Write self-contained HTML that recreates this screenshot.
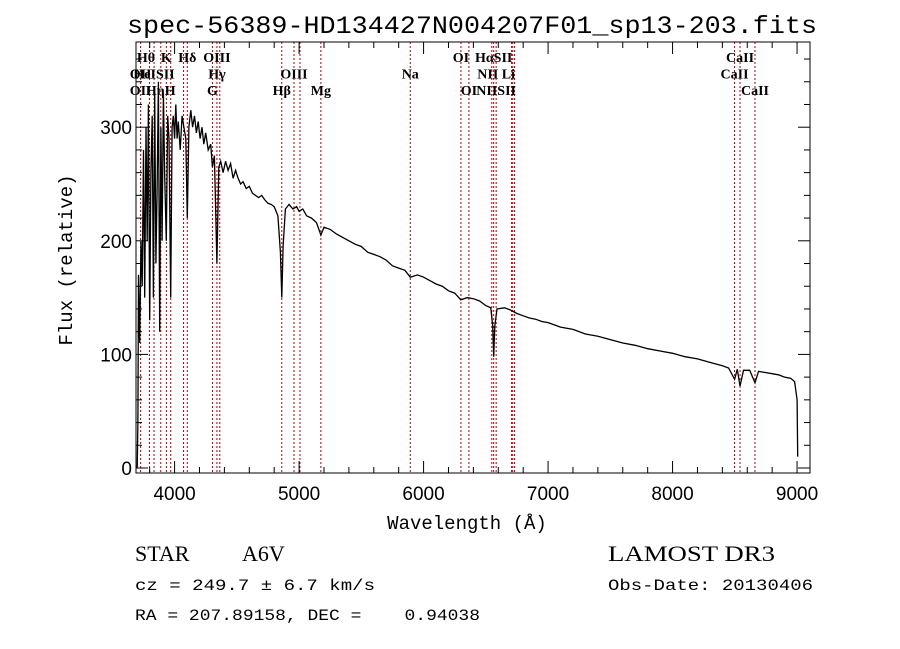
<!DOCTYPE html>
<html><head><meta charset="utf-8"><style>
html,body{margin:0;padding:0;background:#fff;}
svg{display:block;}
text{fill:#000;white-space:pre;}
</style></head><body>
<svg id="chart" width="900" height="649" viewBox="0 0 900 649" xmlns="http://www.w3.org/2000/svg">
<text x="472" y="33" text-anchor="middle" font-family="Liberation Mono, monospace" font-size="25" textLength="690" lengthAdjust="spacingAndGlyphs">spec-56389-HD134427N004207F01_sp13-203.fits</text>
<g id="lines"></g>
<g id="labels"></g>
<path id="spec" fill="none" stroke="#000" stroke-width="1.3"/>
<rect x="136" y="42" width="674" height="431" fill="none" stroke="#000" stroke-width="1"/>
<g id="ticks" stroke="#000" stroke-width="1"></g>
<g id="ticklabels" font-family="Liberation Sans, sans-serif" font-size="19"></g>
<text x="467" y="529" text-anchor="middle" font-family="Liberation Mono, monospace" font-size="19">Wavelength (Å)</text>
<text transform="translate(72,260) rotate(-90)" text-anchor="middle" font-family="Liberation Mono, monospace" font-size="19">Flux (relative)</text>
<text x="135" y="561" font-family="Liberation Serif, serif" font-size="22">STAR</text>
<text x="242" y="561" font-family="Liberation Serif, serif" font-size="22">A6V</text>
<text x="608" y="561" font-family="Liberation Serif, serif" font-size="22" textLength="167" lengthAdjust="spacingAndGlyphs">LAMOST DR3</text>
<text x="135" y="590" font-family="Liberation Mono, monospace" font-size="16" textLength="240" lengthAdjust="spacingAndGlyphs">cz = 249.7 ± 6.7 km/s</text>
<text x="608" y="590" font-family="Liberation Mono, monospace" font-size="16" textLength="205" lengthAdjust="spacingAndGlyphs">Obs-Date: 20130406</text>
<text x="135" y="620" font-family="Liberation Mono, monospace" font-size="16" textLength="345" lengthAdjust="spacingAndGlyphs" xml:space="preserve">RA = 207.89158, DEC =    0.94038</text>
</svg>
<script>
const wavelengths=[3700,3705,3710,3720,3730,3740,3750,3760,3770,3780,3790,3800,3810,3820,3830,3840,3850,3860,3870,3880,3890,3900,3910,3920,3933,3945,3955,3969,3980,3990,4000,4010,4020,4030,4045,4060,4075,4090,4102,4115,4130,4145,4160,4175,4190,4205,4220,4235,4250,4270,4290,4304,4320,4340,4355,4370,4390,4410,4430,4450,4470,4490,4510,4530,4550,4575,4600,4625,4650,4675,4700,4725,4750,4775,4800,4830,4850,4861,4872,4890,4920,4950,4980,5000,5030,5060,5100,5140,5175,5200,5250,5300,5350,5400,5450,5500,5550,5600,5650,5700,5750,5800,5850,5893,5950,6000,6050,6100,6150,6200,6250,6300,6350,6400,6450,6500,6540,6555,6563,6572,6590,6650,6700,6750,6800,6850,6900,6950,7000,7100,7200,7300,7400,7500,7600,7700,7800,7900,8000,8100,8200,8300,8400,8450,8498,8520,8542,8570,8620,8662,8690,8750,8800,8850,8900,8950,8980,9000,9005];
const fluxes=[0,40,170,110,200,160,280,150,300,200,320,130,260,310,150,330,180,250,340,120,300,200,330,260,200,310,290,150,300,310,290,320,290,305,280,310,300,290,220,300,315,300,310,295,305,290,300,285,295,280,285,265,275,180,265,270,260,270,262,268,255,262,255,250,252,246,248,242,240,238,240,236,233,232,230,222,190,150,195,228,232,228,230,226,228,222,220,216,205,212,210,206,203,200,197,195,190,188,186,183,178,176,174,168,170,168,165,162,160,156,154,148,150,149,147,143,141,125,98,125,140,141,139,136,134,132,131,129,128,124,122,118,116,113,110,108,105,103,101,98,96,93,90,88,78,87,72,86,86,75,85,84,83,82,80,79,76,60,10];
const lineWaves=[3727,3798,3835,3889,3934,3969,4072,4102,4304,4340,4363,4861,4959,5007,5175,5893,6300,6364,6548,6563,6583,6707,6716,6731,8498,8542,8662];
const xTickLabels=[4000,5000,6000,7000,8000,9000];
const yTickLabels=[0,100,200,300];
const labelTexts=["Hθ","K","Hδ","OIII","OI","HαSII","CaII","OII","HeISII","Hγ","OIII","Na","NII Li","CaII","OII","HηH","G","Hβ","Mg","OI","NIISII","CaII"];
const labelWaves=[3770,3934,4102,4340,6300,6563,8542,3727,3835,4340,4959,5893,6583,8498,3727,3889,4304,4861,5175,6364,6583,8662];
const labelRows=[0,0,0,0,0,0,0,1,1,1,1,1,1,1,2,2,2,2,2,2,2,2];

const X0=136,X1=810,Y0=473,Y1=42,WMIN=3690,WMAX=9104,FMIN=-4.4,FMAX=375;
const xs=w=>X0+(w-WMIN)/(WMAX-WMIN)*(X1-X0);
const ys=f=>Y0-(f-FMIN)/(FMAX-FMIN)*(Y0-Y1);
const NS="http://www.w3.org/2000/svg";
let d="";
wavelengths.forEach((w,i)=>{d+=(i?"L":"M")+xs(w).toFixed(1)+","+ys(fluxes[i]).toFixed(1);});
document.getElementById("spec").setAttribute("d",d);
const lg=document.getElementById("lines");
lineWaves.forEach(w=>{const l=document.createElementNS(NS,"line");


l.setAttribute("x1",xs(w));l.setAttribute("x2",xs(w));l.setAttribute("y1",Y1);l.setAttribute("y2",Y0);
l.setAttribute("stroke","#b00000");l.setAttribute("stroke-width","1");l.setAttribute("stroke-dasharray","2,2");lg.appendChild(l);});
const lab=document.getElementById("labels");
labelTexts.forEach((t,i)=>{const e=document.createElementNS(NS,"text");


e.setAttribute("x",xs(labelWaves[i]));e.setAttribute("y",62+labelRows[i]*16.5);
e.setAttribute("text-anchor","middle");e.setAttribute("font-family","Liberation Serif, serif");e.setAttribute("font-size","14");e.setAttribute("font-weight","bold");
e.textContent=t;lab.appendChild(e);});
const tg=document.getElementById("ticks");
function tick(x1,y1,x2,y2){const l=document.createElementNS(NS,"line");


l.setAttribute("x1",x1);l.setAttribute("y1",y1);l.setAttribute("x2",x2);l.setAttribute("y2",y2);tg.appendChild(l);}
for(let w=3800;w<=9100;w+=200){const big=w%1000===0;const L=big?12:6;tick(xs(w),Y0,xs(w),Y0-L);tick(xs(w),Y1,xs(w),Y1+L);}
for(let f=0;f<=370;f+=20){const big=f%100===0;const L=big?12:6;tick(X0,ys(f),X0+L,ys(f));tick(X1,ys(f),X1-L,ys(f));}
const tl=document.getElementById("ticklabels");
xTickLabels.forEach(v=>{const e=document.createElementNS(NS,"text");


e.setAttribute("x",xs(v));e.setAttribute("y",Y0+27);e.setAttribute("text-anchor","middle");e.textContent=v;tl.appendChild(e);});
yTickLabels.forEach(v=>{const e=document.createElementNS(NS,"text");


e.setAttribute("x",X0-4);e.setAttribute("y",ys(v)+7);e.setAttribute("text-anchor","end");e.textContent=v;tl.appendChild(e);});
</script>
</body></html>
